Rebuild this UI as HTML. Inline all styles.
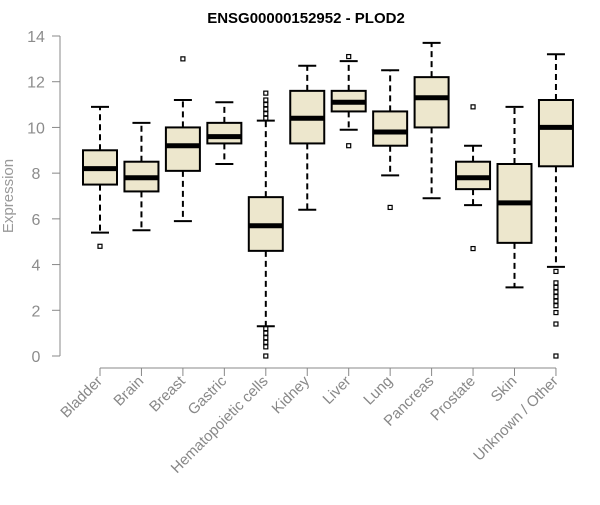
<!DOCTYPE html>
<html><head><meta charset="utf-8"><style>
body{margin:0;background:#fff}
svg text{font-family:"Liberation Sans",Arial,sans-serif}
</style></head><body>
<svg id="chart" width="600" height="500">
<text x="306" y="23" text-anchor="middle" font-size="15" font-weight="bold">ENSG00000152952 - PLOD2</text>
<text transform="translate(13,196) rotate(-90)" text-anchor="middle" font-size="15" fill="#999">Expression</text>
<g id="axes"></g><g id="boxes"></g>
</svg>
<script>
const categories=["Bladder","Brain","Breast","Gastric","Hematopoietic cells","Kidney","Liver","Lung","Pancreas","Prostate","Skin","Unknown / Other"];
const whiskerLow=[5.4,5.5,5.9,8.4,1.3,6.4,9.9,7.9,6.9,6.6,3.0,3.9];
const q1=[7.5,7.2,8.1,9.3,4.6,9.3,10.7,9.2,10.0,7.3,4.95,8.3];
const median=[8.2,7.8,9.2,9.6,5.7,10.4,11.1,9.8,11.3,7.8,6.7,10.0];
const q3=[9.0,8.5,10.0,10.2,6.95,11.6,11.6,10.7,12.2,8.5,8.4,11.2];
const whiskerHigh=[10.9,10.2,11.2,11.1,10.3,12.7,12.9,12.5,13.7,9.2,10.9,13.2];
const outliers=[[4.8],[],[13.0],[],[10.4,10.6,10.8,11.0,11.2,11.5,1.2,1.0,0.8,0.6,0.4,0],[],[13.1,9.2],[6.5],[],[10.9,4.7],[],[3.7,3.2,3.0,2.8,2.6,2.4,2.2,1.9,1.4,0]];
const yTicks=[0,2,4,6,8,10,12,14];
const NS="http://www.w3.org/2000/svg";
const y=v=>356-v*(320/14);
const x=i=>100+i*41.45;
function mk(tag,attrs,parent){const e=document.createElementNS(NS,tag);for(const k in attrs)e.setAttribute(k,attrs[k]);parent.appendChild(e);return e;}
const ax=document.getElementById('axes'),bx=document.getElementById('boxes');
let l=mk('line',{x1:60,x2:60,y1:y(14),y2:y(0),stroke:'#888'},ax);


yTicks.forEach(t=>{
 mk('line',{x1:52,x2:60,y1:y(t),y2:y(t),stroke:'#888'},ax);
 const tx=mk('text',{x:36,y:y(t)+6,'text-anchor':'middle','font-size':16,fill:'#8c8c8c'},ax);
 tx.textContent=t;
 
 
});
l=mk('line',{x1:x(0),x2:x(11),y1:368,y2:368,stroke:'#888'},ax);


categories.forEach((c,i)=>{
 const cx=x(i);
 mk('line',{x1:cx,x2:cx,y1:368,y2:376,stroke:'#888'},ax);
 const tx=mk('text',{transform:`translate(${cx+3},${382}) rotate(-45)`,'text-anchor':'end','font-size':15,fill:'#888'},ax);
 tx.textContent=c;
 
 
 const g=mk('g',{},bx);
 
 
 mk('line',{x1:cx,x2:cx,y1:y(q3[i]),y2:y(whiskerHigh[i]),stroke:'#000','stroke-width':2,'stroke-dasharray':'6,4'},g);
 mk('line',{x1:cx,x2:cx,y1:y(q1[i]),y2:y(whiskerLow[i]),stroke:'#000','stroke-width':2,'stroke-dasharray':'6,4'},g);
 mk('line',{x1:cx-9,x2:cx+9,y1:y(whiskerHigh[i]),y2:y(whiskerHigh[i]),stroke:'#000','stroke-width':2},g);
 mk('line',{x1:cx-9,x2:cx+9,y1:y(whiskerLow[i]),y2:y(whiskerLow[i]),stroke:'#000','stroke-width':2},g);
 mk('rect',{x:cx-17,y:y(q3[i]),width:34,height:y(q1[i])-y(q3[i]),fill:'#ede7cd',stroke:'#000','stroke-width':2},g);
 mk('line',{x1:cx-17,x2:cx+17,y1:y(median[i]),y2:y(median[i]),stroke:'#000','stroke-width':5},g);
 outliers[i].forEach(o=>{
  const r=mk('rect',{x:cx-2,y:y(o)-2,width:4,height:4,fill:'none',stroke:'#000','stroke-width':1.2},g);
  
  
 });
});
</script>
</body></html>
